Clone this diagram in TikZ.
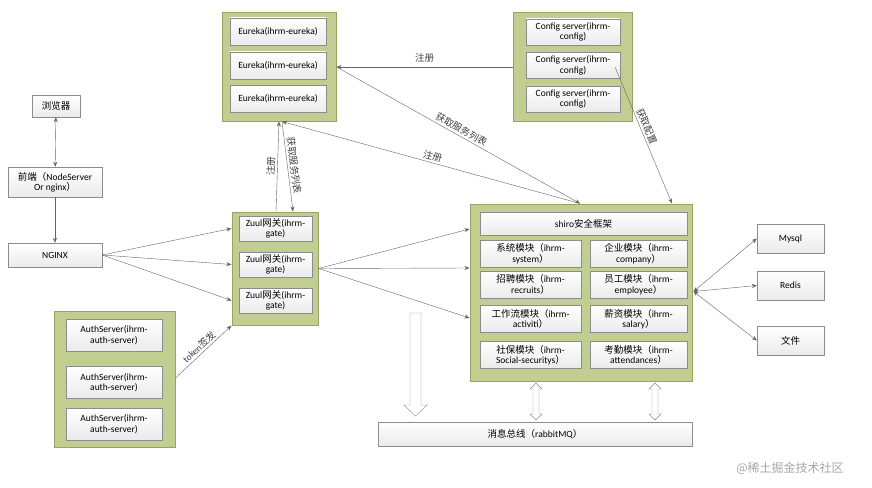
\documentclass[tikz,border=0pt]{standalone}
\usepackage{fontspec}
\setmainfont{Carlito}
\newfontfamily\cjk{Noto Sans CJK SC}
\newcommand\zh[1]{{\cjk #1}}
\usetikzlibrary{arrows.meta, calc}
\definecolor{groupgreen}{RGB}{194, 205, 146}
\definecolor{groupedge}{RGB}{150, 163, 98}
\definecolor{itemedge}{RGB}{140, 140, 140}
\definecolor{linkgray}{RGB}{100, 100, 100}
\begin{document}
\begin{tikzpicture}[x=1pt, y=-1pt,
    grp/.style={draw=groupedge, fill=groupgreen, line width=1pt, inner sep=0pt},
    item/.style={draw=itemedge, top color=white, bottom color=black!8, inner sep=0pt,
                 font=\fontsize{9.5}{10.5}\selectfont, align=center},
    link/.style={-{Stealth[length=5pt, width=4pt]}, draw=linkgray, thin},
    both/.style={{Stealth[length=5pt, width=4pt]}-{Stealth[length=5pt, width=4pt]}, draw=linkgray, thin},
    lbl/.style={font=\fontsize{9.5}{11}\selectfont, text=black!75, inner sep=2pt},
    block/.style={draw=black!45, fill=white, line join=miter}]
\useasboundingbox (0,0) rectangle (872,487);
% browser side
\node[item, minimum width=48pt, minimum height=22pt] (browser) at (56,106) {\zh{浏览器}};
\node[item, minimum width=94pt, minimum height=30pt] (front) at (55,182) {\zh{前端（}NodeServer\\Or nginx\zh{）}};
\node[item, minimum width=94pt, minimum height=24pt] (nginx) at (55,255) {NGINX};
% eureka cluster
\node[grp, minimum width=114pt, minimum height=108pt] (eurekaGrp) at (279,67) {};
\foreach \i/\y in {1/31.5, 2/65.5, 3/99}
    \node[item, minimum width=96pt, minimum height=27pt] (eureka\i) at (278,\y) {Eureka(ihrm-eureka)};
% config cluster
\node[grp, minimum width=119pt, minimum height=108pt] (configGrp) at (572.5,67) {};
\foreach \i/\y in {1/32, 2/65.5, 3/99}
    \node[item, minimum width=94pt, minimum height=26pt] (config\i) at (573,\y) {Config server(ihrm-\\config)};
% zuul gateway
\node[grp, minimum width=86pt, minimum height=113pt] (zuulGrp) at (275,268.5) {};
\foreach \i/\y in {1/228.5, 2/264.5, 3/300.5}
    \node[item, minimum width=73pt, minimum height=25pt] (zuul\i) at (275.5,\y) {Zuul\zh{网关}(ihrm-\\gate)};
% auth servers
\node[grp, minimum width=121pt, minimum height=136pt] (authGrp) at (114.5,379) {};
\foreach \i/\y in {1/335, 2/382.5, 3/424}
    \node[item, minimum width=96pt, minimum height=32pt] (auth\i) at (114,\y) {AuthServer(ihrm-\\auth-server)};
% business services
\node[grp, minimum width=222pt, minimum height=177pt] (bizGrp) at (581,292.5) {};
\node[item, minimum width=207pt, minimum height=23pt] (shiro) at (583.5,223.5) {shiro\zh{安全框架}};
\node[item, minimum width=101pt, minimum height=27pt] (sysMod) at (530.5,253.5) {\zh{系统模块（}ihrm-\\system\zh{）}};
\node[item, minimum width=97pt, minimum height=27pt] (compMod) at (638.5,253.5) {\zh{企业模块（}ihrm-\\company\zh{）}};
\node[item, minimum width=101pt, minimum height=27pt] (recMod) at (530.5,284.5) {\zh{招聘模块（}ihrm-\\recruits\zh{）}};
\node[item, minimum width=97pt, minimum height=27pt] (empMod) at (638.5,284.5) {\zh{员工模块（}ihrm-\\employee\zh{）}};
\node[item, minimum width=101pt, minimum height=27pt] (flowMod) at (530.5,319) {\zh{工作流模块（}ihrm-\\activiti\zh{）}};
\node[item, minimum width=97pt, minimum height=27pt] (salMod) at (638.5,319) {\zh{薪资模块（}ihrm-\\salary\zh{）}};
\node[item, minimum width=101pt, minimum height=27pt] (socMod) at (530.5,355) {\zh{社保模块（}ihrm-\\Social-securitys\zh{）}};
\node[item, minimum width=97pt, minimum height=27pt] (attMod) at (638.5,355) {\zh{考勤模块（}ihrm-\\attendances\zh{）}};
% storage
\node[item, minimum width=67pt, minimum height=29pt] (mysql) at (790.5,238.5) {Mysql};
\node[item, minimum width=67pt, minimum height=29pt] (redis) at (790.5,285.5) {Redis};
\node[item, minimum width=67pt, minimum height=29pt] (files) at (790.5,340.5) {\zh{文件}};
% message bus
\node[item, minimum width=314pt, minimum height=24pt] (bus) at (535,434) {\zh{消息总线（}rabbitMQ\zh{）}};

% connectors
\draw[both] (browser) -- (front);
\draw[link] (front) -- (nginx);
\foreach \z in {1,2,3}
    \draw[link] (nginx.east) -- (zuulGrp.west |- zuul\z);
\draw[link] (zuulGrp.east) -- ($(bizGrp.west)+(0,-63.5)$);
\draw[link] (zuulGrp.east) -- ($(bizGrp.west)+(0,-24.5)$);
\draw[link] (zuulGrp.east) -- ($(bizGrp.west)+(0,25.5)$);
\draw[link] ($(authGrp.east)+(0,-1)$) -- node[lbl, midway, sloped, above] {token\zh{签发}} (zuulGrp.south west);
\draw[link] ($(zuulGrp.north)+(1,0)$) -- node[lbl, midway, sloped, above] {\zh{注册}} (eurekaGrp.south);
\draw[link] ($(eurekaGrp.south)+(3,0)$) -- node[lbl, midway, sloped, above] {\zh{获取服务列表}} ($(zuulGrp.north)+(18,0)$);
\draw[link] (configGrp.west) -- node[lbl, midway, above=2pt] {\zh{注册}} (eurekaGrp.east);
\draw[link] ($(bizGrp.north)+(-1,0)$) -- node[lbl, pos=0.5, sloped, above] {\zh{注册}} ($(eurekaGrp.south)+(3,0)$);
\draw[link] (eurekaGrp.east) -- node[lbl, pos=0.5, sloped, above] {\zh{获取服务列表}} ($(bizGrp.north)+(-1,0)$);
\draw[link] ($(config2.east)+(-5,2)$) -- node[lbl, pos=0.45, sloped, above] {\zh{获取配置}} ($(bizGrp.north)+(91,0)$);
\foreach \d in {mysql, redis, files}
    \draw[both] ($(bizGrp.east)+(1,-1)$) -- (\d.west);

% block arrows to the bus
\draw[block] (410,313) -- (421,313) -- (421,405) -- (427,405) -- (415.5,416)
    -- (404,405) -- (410,405) -- cycle;
\foreach \x in {536, 655}
    \draw[block] (\x,383) -- (\x+6,389) -- (\x+3,389) -- (\x+3,414) -- (\x+6,414)
        -- (\x,420) -- (\x-6,414) -- (\x-3,414) -- (\x-3,389) -- (\x-6,389) -- cycle;

% watermark
\node[font=\fontsize{12}{14}\selectfont, text=black!35] (mark) at (790,468) {\zh{@稀土掘金技术社区}};
\end{tikzpicture}
\end{document}
